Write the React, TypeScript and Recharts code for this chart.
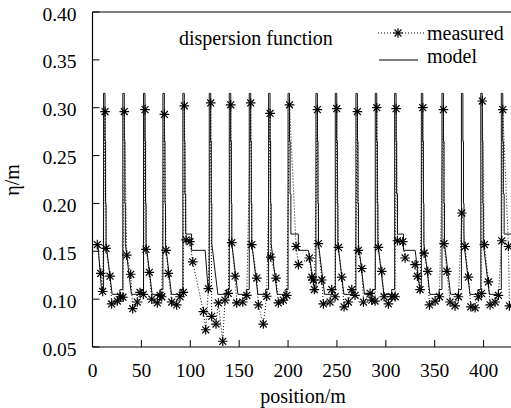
import React from 'react';
import { LineChart, Line, XAxis, YAxis, ReferenceLine, Legend } from 'recharts';

const FONT = 'Liberation Serif';

const xTicks = [0, 50, 100, 150, 200, 250, 300, 350, 400];
const yTicks = [0.05, 0.1, 0.15, 0.2, 0.25, 0.3, 0.35, 0.4];

// measured dispersion (position m, eta m)
const measuredX = [
  4.9, 8.4, 10.4, 12.8, 13.8, 17.9, 19.6, 25.4, 28.6, 31.2, 32.5, 35.0, 39.1, 41.1, 45.8, 48.6, 52.0,
  53.7, 54.7, 58.1, 60.6, 66.3, 69.1, 70.8, 73.5, 75.2, 77.5, 81.0, 86.1, 89.5, 92.9, 93.9, 95.7,
  99.7, 102.5, 113.4, 115.8, 118.5, 120.9, 121.9, 126.3, 128.7, 133.2, 135.5, 138.9, 141.4, 142.4,
  145.8, 147.5, 153.7, 157.8, 161.8, 162.9, 168.0, 169.6, 174.7, 178.2, 181.6, 182.3, 187.7, 190.1,
  195.2, 198.7, 201.5, 208.2, 210.6, 221.8, 224.2, 225.9, 226.9, 230.0, 231.0, 234.5, 236.1, 242.9,
  244.7, 248.1, 249.8, 251.5, 254.9, 257.3, 261.7, 265.2, 268.5, 270.9, 271.9, 275.4, 277.1, 283.9,
  285.6, 289.0, 290.7, 292.4, 295.9, 298.2, 302.6, 306.1, 309.5, 310.5, 311.8, 317.3, 319.7, 329.9,
  332.3, 335.0, 337.8, 339.1, 342.9, 344.6, 350.4, 354.8, 358.9, 359.5, 362.4, 365.7, 370.8, 374.2,
  377.7, 381.1, 384.4, 386.9, 391.3, 394.7, 397.9, 398.6, 400.8, 404.9, 406.6, 411.8, 415.1, 418.6,
  419.6, 425.4, 426.4,
];
const measuredY = [
  0.157, 0.127, 0.108, 0.296, 0.153, 0.124, 0.095, 0.098, 0.1025, 0.102, 0.296, 0.146, 0.126, 0.09, 0.097, 0.107, 0.105,
  0.298, 0.152, 0.128, 0.1, 0.096, 0.104, 0.1025, 0.293, 0.151, 0.127, 0.097, 0.094, 0.1025, 0.107, 0.302, 0.162,
  0.16, 0.139, 0.087, 0.068, 0.111, 0.305, 0.082, 0.074, 0.096, 0.056, 0.099, 0.106, 0.303, 0.159,
  0.124, 0.096, 0.097, 0.104, 0.305, 0.157, 0.122, 0.094, 0.074, 0.103, 0.294, 0.144, 0.122, 0.096,
  0.099, 0.104, 0.303, 0.155, 0.136, 0.143, 0.123, 0.12, 0.11, 0.298, 0.158, 0.12, 0.095, 0.097,
  0.11, 0.1025, 0.299, 0.154, 0.123, 0.092, 0.097, 0.11, 0.104, 0.296, 0.151, 0.132, 0.097, 0.106,
  0.099, 0.098, 0.3, 0.154, 0.129, 0.1025, 0.095, 0.1025, 0.1025, 0.299, 0.161, 0.16, 0.143, 0.136,
  0.124, 0.11, 0.3, 0.148, 0.129, 0.094, 0.098, 0.1025, 0.298, 0.158, 0.129, 0.097, 0.093, 0.1025,
  0.19, 0.155, 0.123, 0.092, 0.091, 0.1025, 0.106, 0.307, 0.157, 0.118, 0.094, 0.097, 0.104, 0.161,
  0.298, 0.155, 0.093,
];

// model: lattice
const spikeStarts = [
  11.3, 31.0, 52.2, 72.0, 92.4,
  119.4, 139.9, 160.3, 180.1, 200.0,
  228.5, 248.3, 269.4, 289.2, 309.0,
  336.3, 357.4, 377.3, 397.1, 418.1,
];
const groupEnds = [4, 9, 14, 19];
const leadX = [0, 5.6, 9.5];
const leadY = [0.157, 0.157, 0.106];
// regular cell profile (offset from spike start, eta)
const cellOffsets = [0, 0, 1.5, 1.5, 2.1, 2.1, 2.6, 2.6, 8.8];
const cellLevels = [0.11, 0.315, 0.315, 0.265, 0.265, 0.2, 0.2, 0.158, 0.105];
const bumpOffsets = [-3, -3];
const bumpLevels = [0.105, 0.11];
// last cell of each group (before straight section)
const endOffsets = [0, 0, 1.5, 1.5, 2.1, 2.1, 2.9, 2.9];
const endLevels = [0.11, 0.315, 0.315, 0.265, 0.265, 0.21, 0.21, 0.168];
const endPlateau1 = [101.3, 210.5, 318.0, 430];
const endPlateau2 = [115.2, 220.8, 330.0, 440];
const endDrop = [118.5, 227.6, 335.1, 445];

const measuredData = measuredX.map((x, i) => ({ x, y: measuredY[i] }));

const modelData: { x: number; y: number }[] = [];
leadX.forEach((x, i) => modelData.push({ x, y: leadY[i] }));
spikeStarts.forEach((s, i) => {
  const g = groupEnds.indexOf(i);
  if (g >= 0) {
    endOffsets.forEach((o, k) => modelData.push({ x: s + o, y: endLevels[k] }));
    modelData.push({ x: endPlateau1[g], y: 0.168 });
    modelData.push({ x: endPlateau1[g], y: 0.151 });
    modelData.push({ x: endPlateau2[g], y: 0.151 });
    modelData.push({ x: endDrop[g], y: 0.107 });
  } else {
    cellOffsets.forEach((o, k) => modelData.push({ x: s + o, y: cellLevels[k] }));
    const next = spikeStarts[i + 1];
    bumpOffsets.forEach((o, k) => modelData.push({ x: next + o, y: bumpLevels[k] }));
  }
});

const Star = ({ cx, cy, size = 4.8 }: { cx: number; cy: number; size?: number }) => {
  const d = size * 0.72;
  return (
    <g stroke="#000" strokeWidth={1.2}>
      <line x1={cx - size} y1={cy} x2={cx + size} y2={cy} />
      <line x1={cx} y1={cy - size} x2={cx} y2={cy + size} />
      <line x1={cx - d} y1={cy - d} x2={cx + d} y2={cy + d} />
      <line x1={cx - d} y1={cy + d} x2={cx + d} y2={cy - d} />
    </g>
  );
};

const renderDot = (props: any) => {
  const { cx, cy, index } = props;
  if (cx == null || cy == null) return <g key={`d${index}`} />;
  return (
    <g key={`d${index}`}>
      <Star cx={cx} cy={cy} />
    </g>
  );
};

const textStyle = { fontFamily: FONT };

const XTick = (props: any) => {
  const { x, y, payload } = props;
  return (
    <g>
      <line x1={x} y1={y} x2={x} y2={y - 7} stroke="#000" strokeWidth={1} />
      <text x={x} y={y + 30} textAnchor="middle" style={textStyle} fontSize={19.5} fill="#000">
        {payload.value}
      </text>
    </g>
  );
};

const YTick = (props: any) => {
  const { x, y, payload } = props;
  return (
    <g>
      <line x1={x} y1={y} x2={x + 7} y2={y} stroke="#000" strokeWidth={1} />
      <text x={x - 16} y={y + 8.5} textAnchor="end" style={textStyle} fontSize={19.5} fill="#000">
        {Number(payload.value).toFixed(2)}
      </text>
    </g>
  );
};

const renderLegend = () => (
  <svg width={141} height={56} style={{ display: 'block', overflow: 'visible' }}>
    <line x1={8} y1={15} x2={56} y2={15} stroke="#000" strokeWidth={1} strokeDasharray="1 2" />
    <Star cx={28} cy={15} />
    <text x={57} y={22} style={textStyle} fontSize={20} fill="#000">measured</text>
    <line x1={9} y1={42} x2={48} y2={42} stroke="#000" strokeWidth={1.2} />
    <text x={57} y={45} style={textStyle} fontSize={20} fill="#000">model</text>
  </svg>
);

export default function App() {
  return (
    <div style={{ position: 'absolute', left: 0, top: 0, width: 511, height: 408, background: '#fff', fontFamily: FONT }}>
      <LineChart width={511} height={408} margin={{ top: 12, right: 0, left: 0, bottom: 0 }}>
        <XAxis
          type="number"
          dataKey="x"
          domain={[0, 428]}
          allowDataOverflow
          ticks={xTicks}
          tick={<XTick />}
          tickLine={false}
          tickSize={0}
          tickMargin={0}
          height={61}
          axisLine={{ stroke: '#000', strokeWidth: 1.2 }}
          label={{
            content: () => (
              <text x={303} y={403} textAnchor="middle" style={textStyle} fontSize={20} fill="#000">
                position/m
              </text>
            ),
          }}
        />
        <YAxis
          type="number"
          dataKey="y"
          domain={[0.05, 0.4]}
          allowDataOverflow
          ticks={yTicks}
          tick={<YTick />}
          tickLine={false}
          tickSize={0}
          tickMargin={0}
          width={92.5}
          axisLine={{ stroke: '#000', strokeWidth: 1.2 }}
          label={{
            content: () => (
              <text
                x={19}
                y={180}
                transform="rotate(-90 19 180)"
                textAnchor="middle"
                style={textStyle}
                fontSize={20}
                fill="#000"
              >
                η/m
              </text>
            ),
          }}
        />
        <ReferenceLine y={0.4} stroke="#000" strokeWidth={1.2} />
        <Line
          data={modelData}
          dataKey="y"
          type="linear"
          stroke="#111"
          strokeWidth={1}
          dot={false}
          isAnimationActive={false}
          name="model"
        />
        <Line
          data={measuredData}
          dataKey="y"
          type="linear"
          stroke="#000"
          strokeWidth={1}
          strokeDasharray="1 2"
          dot={renderDot}
          isAnimationActive={false}
          name="measured"
        />
        <Legend
          layout="horizontal"
          verticalAlign="middle"
          align="center"
          content={renderLegend}
          wrapperStyle={{ left: 370, top: 18, width: 141, height: 56 }}
        />
      </LineChart>
      <svg
        width={511}
        height={408}
        style={{ position: 'absolute', left: 0, top: 0, pointerEvents: 'none' }}
      >
        <text x={179} y={45} style={textStyle} fontSize={20} fill="#000">
          dispersion function
        </text>
      </svg>
    </div>
  );
}
